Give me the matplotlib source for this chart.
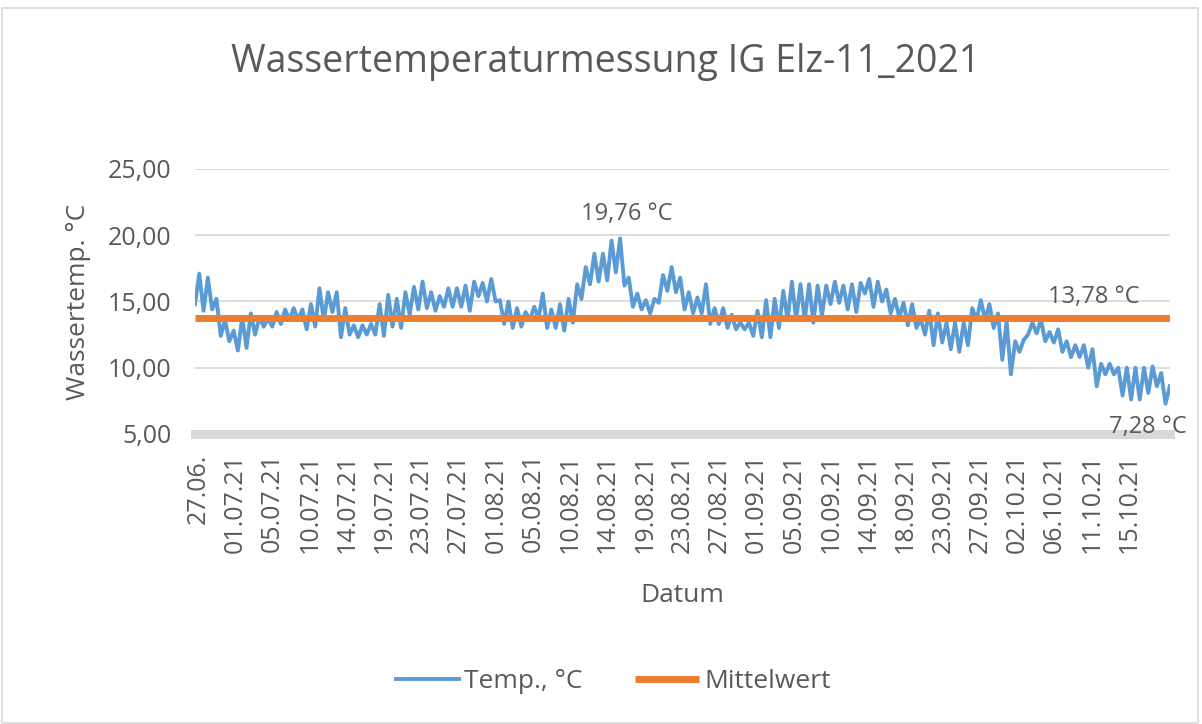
import numpy as np
import matplotlib
matplotlib.use("Agg")
import matplotlib.pyplot as plt
from matplotlib.patches import Rectangle

plt.rcParams['font.family'] = ['Open Sans', 'DejaVu Sans']

# daily minimum / maximum water temperature (27.06. - 19.10.2021)
daily_min = [14.8, 14.3, 14.4, 12.4, 12.0, 11.3, 11.5, 12.5, 13.1, 13.1,
             13.3, 13.6, 13.6, 12.9, 13.1, 13.6, 14.2, 12.3, 12.5, 12.3,
             12.5, 12.5, 12.4, 13.1, 13.0, 14.0, 14.4, 14.5, 14.3, 14.6,
             14.6, 14.6, 14.3, 15.4, 15.0, 15.0, 13.3, 13.0, 13.1, 13.6,
             13.7, 13.0, 13.0, 12.8, 13.4, 15.2, 16.3, 16.5, 16.6, 17.2,
             16.2, 14.6, 14.4, 14.1, 14.9, 15.8, 15.7, 14.4, 14.1, 14.1,
             13.3, 13.3, 13.0, 12.9, 12.9, 12.4, 12.3, 12.3, 13.0, 13.6,
             13.6, 13.6, 13.4, 13.9, 14.8, 14.9, 14.4, 14.2, 15.6, 14.6,
             15.0, 14.1, 13.8, 13.2, 13.0, 12.5, 11.7, 11.9, 11.4, 11.2,
             11.7, 13.6, 13.6, 13.0, 10.6, 9.5, 11.2, 12.5, 12.6, 12.0,
             11.9, 11.2, 10.8, 10.8, 10.0, 8.6, 9.5, 9.5, 7.9, 7.6,
             7.6, 8.1, 8.6, 7.28]
daily_max = [17.1, 16.8, 15.2, 13.6, 12.8, 13.8, 14.1, 13.8, 13.7, 14.2,
             14.4, 14.5, 14.4, 14.8, 16.0, 15.7, 15.7, 14.5, 13.2, 13.2,
             13.3, 14.8, 15.5, 15.2, 15.7, 16.1, 16.5, 15.7, 15.4, 16.0,
             16.0, 16.2, 16.5, 16.4, 16.7, 15.1, 15.0, 14.5, 14.2, 14.6,
             15.6, 14.4, 14.8, 15.2, 16.3, 17.6, 18.6, 18.6, 19.6, 19.76,
             16.8, 15.6, 15.1, 15.2, 17.0, 17.6, 16.8, 15.7, 15.3, 16.3,
             14.5, 14.5, 14.0, 13.4, 13.4, 14.3, 15.1, 15.2, 15.8, 16.5,
             16.3, 16.3, 16.2, 16.2, 16.5, 16.2, 16.3, 16.4, 16.7, 16.5,
             15.9, 15.2, 14.9, 14.8, 13.7, 14.3, 14.1, 13.4, 13.4, 13.4,
             14.5, 15.1, 14.8, 14.1, 13.5, 12.0, 12.1, 13.4, 13.6, 12.7,
             12.9, 12.0, 11.7, 11.7, 11.4, 10.3, 10.3, 10.0, 10.0, 10.0,
             10.0, 10.1, 9.6, 8.6]
mittelwert = 13.78

date_labels = ['27.06.', '01.07.21', '05.07.21', '10.07.21', '14.07.21', '19.07.21',
               '23.07.21', '27.07.21', '01.08.21', '05.08.21', '10.08.21', '14.08.21',
               '19.08.21', '23.08.21', '27.08.21', '01.09.21', '05.09.21', '10.09.21',
               '14.09.21', '18.09.21', '23.09.21', '27.09.21', '02.10.21', '06.10.21',
               '11.10.21', '15.10.21']

temps = np.column_stack([daily_min, daily_max]).ravel()
x = np.arange(len(temps))
n = len(temps)

grey = '#595959'
fig = plt.figure(figsize=(12.02, 7.24), dpi=100)
fig.patches.append(Rectangle((0.002, 0.002), 0.995, 0.987, transform=fig.transFigure,
                             fill=False, edgecolor='#d9d9d9', linewidth=1.2))
ax = fig.add_axes([0.1622, 0.4006, 0.811, 0.366])

ax.plot(x, temps, color='#5b9bd5', linewidth=2.8, label='Temp., °C')
ax.plot([0, n - 1], [mittelwert, mittelwert], color='#ed7d31', linewidth=5, label='Mittelwert',
        solid_capstyle='butt')

ax.set_xlim(0, n - 1)
ax.set_ylim(5, 25)
ax.set_yticks([5, 10, 15, 20, 25])
ax.set_yticklabels(['5,00', '10,00', '15,00', '20,00', '25,00'])
# labels are evenly spaced (category axis), ~37.25 px apart starting 3 px in
tick_pos = [(3 + 37.25 * k) / 975 * (n - 1) for k in range(len(date_labels))]
ax.set_xticks(tick_pos)
ax.set_xticklabels(date_labels, rotation=90, va='top', ha='center')

ax.grid(axis='y', color='#d9d9d9', linewidth=1.3)
ax.set_axisbelow(True)
for s in ['left', 'right', 'top']:
    ax.spines[s].set_visible(False)
ax.spines['bottom'].set_color('#d9d9d9')
ax.spines['bottom'].set_linewidth(6.5)
ax.tick_params(axis='both', length=0, colors=grey, labelsize=18)
ax.tick_params(axis='y', pad=17)
ax.tick_params(axis='x', pad=14)

ax.set_xlabel('Datum', fontsize=19, color=grey, labelpad=22)
ax.set_ylabel('Wassertemp. °C', fontsize=19, color=grey, labelpad=12)
fig.suptitle('Wassertemperaturmessung IG Elz-11_2021', fontsize=27, color=grey,
             x=0.504, y=0.94)

# data labels
i_max = int(np.argmax(temps))
i_min = int(np.argmin(temps))
ax.annotate('19,76 °C', (i_max, temps[i_max]), xytext=(5, 9), textcoords='offset points',
            ha='center', va='bottom', fontsize=17, color=grey)
ax.annotate('7,28 °C', (i_min, temps[i_min]), xytext=(-13, -8), textcoords='offset points',
            ha='center', va='top', fontsize=17, color=grey)
ax.annotate('13,78 °C', (n - 1, mittelwert), xytext=(-55, 6), textcoords='offset points',
            ha='center', va='bottom', fontsize=17, color=grey)

fig.legend(loc='center', bbox_to_anchor=(0.51, 0.059), ncol=2, frameon=False,
           fontsize=19, labelcolor=grey, handlelength=2.4, columnspacing=2.0,
           handletextpad=0.2)

fig.savefig('out.png', dpi=100)
